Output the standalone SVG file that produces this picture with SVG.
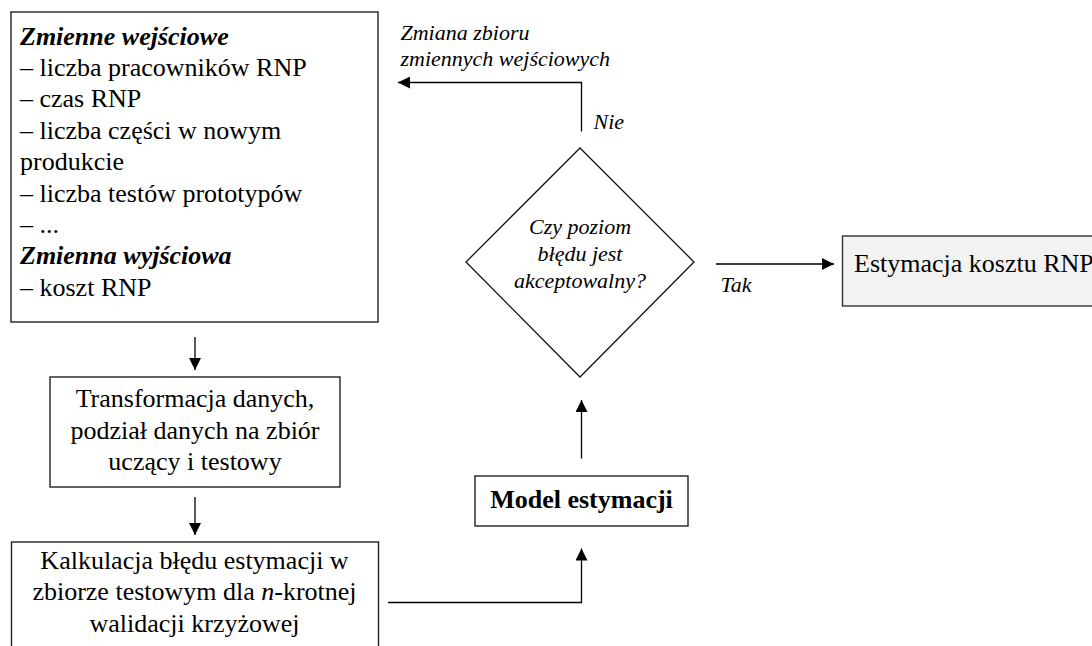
<svg xmlns="http://www.w3.org/2000/svg" width="1092" height="646" viewBox="0 0 1092 646">
  <style>
    .box { fill: #ffffff; stroke: #222222; stroke-width: 1.4; }
    .result { fill: #f2f2f2; stroke: #333333; stroke-width: 1.4; }
    .decision { fill: #ffffff; stroke: #111111; stroke-width: 1.3; }
    .t { font-family: "Liberation Serif", "Times New Roman", serif; font-size: 26px; fill: #000000; }
    .hd { font-weight: bold; font-style: italic; }
    .it { font-family: "Liberation Serif", "Times New Roman", serif; font-style: italic; font-size: 22px; fill: #000000; }
    .mid { text-anchor: middle; }
    .bold { font-weight: bold; }
    .conn { fill: none; stroke: #000000; stroke-width: 1.3; }
  </style>
  <defs>
    <marker id="arrow" markerUnits="userSpaceOnUse" markerWidth="13" markerHeight="12" refX="12" refY="6" orient="auto">
      <path d="M0,0 L12,6 L0,12 z" fill="#000000"/>
    </marker>
  </defs>

  <rect width="1092" height="646" fill="#ffffff"/>

  <!-- input / output variables -->
  <g id="variables">
    <rect class="box" x="11" y="12" width="367" height="310"/>
    <text class="t hd" x="20" y="44.5">Zmienne wejściowe</text>
    <text class="t" x="20" y="75.9">– liczba pracowników RNP</text>
    <text class="t" x="20" y="107.3">– czas RNP</text>
    <text class="t" x="20" y="138.7">– liczba części w nowym</text>
    <text class="t" x="20" y="170.1">produkcie</text>
    <text class="t" x="20" y="201.5">– liczba testów prototypów</text>
    <text class="t" x="20" y="232.9">– ...</text>
    <text class="t hd" x="20" y="264.3">Zmienna wyjściowa</text>
    <text class="t" x="20" y="295.7">– koszt RNP</text>
  </g>

  <!-- data transformation -->
  <g id="transform">
    <rect class="box" x="50" y="377" width="290" height="110"/>
    <text class="t mid" x="195" y="407">Transformacja danych,</text>
    <text class="t mid" x="195" y="438.5">podział danych na zbiór</text>
    <text class="t mid" x="195" y="470">uczący i testowy</text>
  </g>

  <!-- cross-validation error -->
  <g id="validation">
    <rect class="box" x="11.5" y="542" width="367" height="130"/>
    <text class="t mid" x="194.5" y="568.5">Kalkulacja błędu estymacji w</text>
    <text class="t mid" x="194.5" y="600">zbiorze testowym dla <tspan font-style="italic">n</tspan>-krotnej</text>
    <text class="t mid" x="194.5" y="631.5">walidacji krzyżowej</text>
  </g>

  <!-- estimation model -->
  <g id="model">
    <rect class="box" x="475" y="476" width="213" height="50"/>
    <text class="t mid bold" x="581.5" y="508">Model estymacji</text>
  </g>

  <!-- error check -->
  <g id="decision">
    <polygon class="decision" points="580,148 694,262 580,377 466,262"/>
    <text class="it mid" x="580" y="234">Czy poziom</text>
    <text class="it mid" x="580" y="261">błędu jest</text>
    <text class="it mid" x="580" y="287.5">akceptowalny?</text>
  </g>

  <!-- final result -->
  <g id="result">
    <rect class="result" x="842.5" y="236" width="260" height="70"/>
    <text class="t" x="854" y="271.5">Estymacja kosztu RNP</text>
  </g>

  <!-- connectors -->
  <g id="connectors">
    <line class="conn" x1="195" y1="337" x2="195" y2="370" marker-end="url(#arrow)"/>
    <line class="conn" x1="195" y1="497" x2="195" y2="535" marker-end="url(#arrow)"/>
    <polyline class="conn" points="388,602.5 581.5,602.5 581.5,548.5" marker-end="url(#arrow)"/>
    <line class="conn" x1="581.5" y1="458.5" x2="581.5" y2="400" marker-end="url(#arrow)"/>
    <polyline class="conn" points="581.5,131.5 581.5,82.5 398,82.5" marker-end="url(#arrow)"/>
    <line class="conn" x1="716" y1="264" x2="834" y2="264" marker-end="url(#arrow)"/>
    <text class="it" x="593.5" y="128.5">Nie</text>
    <text class="it" x="720.5" y="291.5">Tak</text>
    <text class="it" x="400.5" y="40">Zmiana zbioru</text>
    <text class="it" x="400.5" y="66">zmiennych wejściowych</text>
  </g>
</svg>
